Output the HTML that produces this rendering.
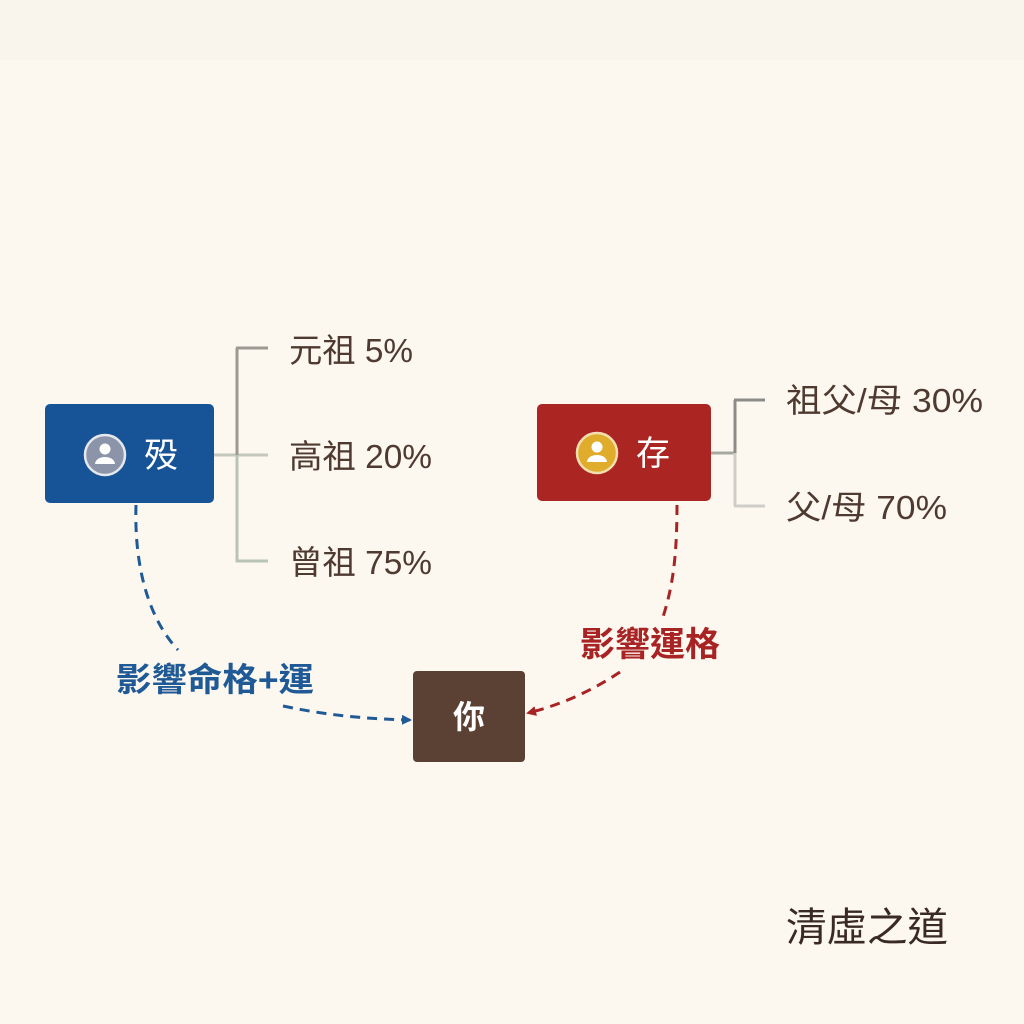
<!DOCTYPE html>
<html><head><meta charset="utf-8"><style>
html,body{margin:0;padding:0;background:#fcf7ef;}
svg{display:block;}
text{font-family:"Liberation Sans","Noto Sans CJK TC",sans-serif;}
</style></head><body>
<svg width="1024" height="1024" viewBox="0 0 1024 1024">
<rect width="1024" height="1024" fill="#fcf7ef"/>
<rect width="1024" height="60" fill="#f9f4ec"/>
<defs>
<marker id="ab" markerWidth="10" markerHeight="10" refX="8" refY="5" orient="auto" markerUnits="userSpaceOnUse"><path d="M0,0 L10,5 L0,10 z" fill="#1f5a96"/></marker>
<marker id="ar" markerWidth="10" markerHeight="10" refX="8" refY="5" orient="auto" markerUnits="userSpaceOnUse"><path d="M0,0 L10,5 L0,10 z" fill="#a82424"/></marker>
</defs>
<line x1="214" y1="455" x2="268" y2="455" stroke="#c5c8bc" stroke-width="3"/>
<line x1="237" y1="348" x2="237" y2="455" stroke="#9c9a92" stroke-width="3"/>
<line x1="237" y1="455" x2="237" y2="562" stroke="#b8c4b6" stroke-width="3"/>
<line x1="236" y1="348" x2="268" y2="348" stroke="#9c9a92" stroke-width="3"/>
<line x1="236" y1="561" x2="268" y2="561" stroke="#b8c4b6" stroke-width="3"/>
<rect x="45" y="404" width="169" height="99" rx="5" fill="#175497"/>
<circle cx="105" cy="455" r="20" fill="#8b94a8" stroke="#e6e8ee" stroke-width="2.5"/>
<circle cx="105" cy="449" r="5.5" fill="#fff"/>
<path d="M95,464 a10,7 0 0 1 20,0 z" fill="#fff"/>
<text x="161" y="467" font-size="34" fill="#fff" text-anchor="middle">殁</text>
<g font-size="33" fill="#4e3a30">
<text x="289" y="362" textLength="124" lengthAdjust="spacingAndGlyphs">元祖 5%</text>
<text x="289" y="468" textLength="143" lengthAdjust="spacingAndGlyphs">高祖 20%</text>
<text x="289" y="574" textLength="143" lengthAdjust="spacingAndGlyphs">曾祖 75%</text>
</g>
<line x1="711" y1="453" x2="735" y2="453" stroke="#a8a8a2" stroke-width="3"/>
<line x1="735" y1="400" x2="735" y2="453" stroke="#8e8c88" stroke-width="3"/>
<line x1="735" y1="453" x2="735" y2="506" stroke="#cfcdc8" stroke-width="3"/>
<line x1="734" y1="400" x2="765" y2="400" stroke="#8e8c88" stroke-width="3"/>
<line x1="734" y1="506" x2="765" y2="506" stroke="#cfcdc8" stroke-width="3"/>
<rect x="537" y="404" width="174" height="97" rx="5" fill="#ab2522"/>
<circle cx="597" cy="453" r="20" fill="#e0ac2c" stroke="#f3deb0" stroke-width="2.5"/>
<circle cx="597" cy="447" r="5.5" fill="#fff"/>
<path d="M587,462 a10,7 0 0 1 20,0 z" fill="#fff"/>
<text x="653" y="465" font-size="34" fill="#fff" text-anchor="middle">存</text>
<g font-size="33" fill="#4e3a30">
<text x="786" y="412" textLength="197" lengthAdjust="spacingAndGlyphs">祖父/母 30%</text>
<text x="786" y="519" textLength="161" lengthAdjust="spacingAndGlyphs">父/母 70%</text>
</g>
<rect x="413" y="671" width="112" height="91" rx="4" fill="#5b4034"/>
<text x="469" y="728" font-size="32" fill="#fff" text-anchor="middle" font-weight="bold">你</text>
<path d="M136,505 C134,570 150,620 178,650" fill="none" stroke="#1f5a96" stroke-width="3" stroke-dasharray="10,7"/>
<path d="M283,706 C330,716 370,719 410,720" fill="none" stroke="#1f5a96" stroke-width="3" stroke-dasharray="10,7" marker-end="url(#ab)"/>
<text x="116" y="691" font-size="33" fill="#1f5a96" font-weight="bold" textLength="198" lengthAdjust="spacingAndGlyphs">影響命格+運</text>
<path d="M677,505 C677,560 672,590 662,620" fill="none" stroke="#a82424" stroke-width="3" stroke-dasharray="10,7"/>
<path d="M620,672 C590,692 560,705 528,713" fill="none" stroke="#a82424" stroke-width="3" stroke-dasharray="10,7" marker-end="url(#ar)"/>
<text x="580" y="656" font-size="34" fill="#a82424" font-weight="bold" textLength="140" lengthAdjust="spacingAndGlyphs">影響運格</text>
<text x="786" y="941" font-size="40" fill="#3a2a24" textLength="162" lengthAdjust="spacingAndGlyphs">清虛之道</text>
</svg>
</body></html>
